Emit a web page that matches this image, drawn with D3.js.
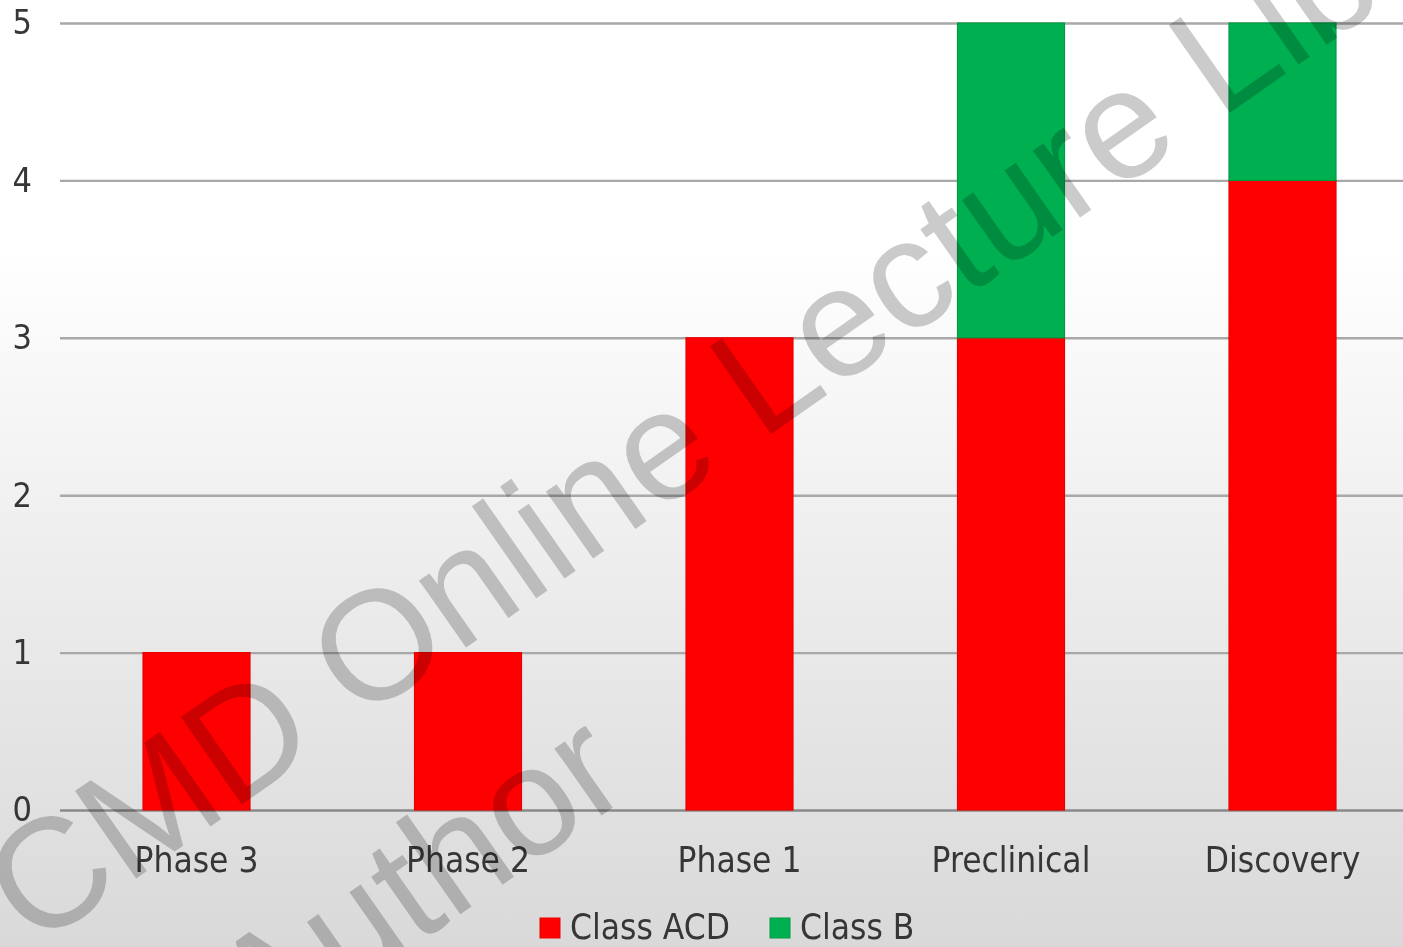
<!DOCTYPE html>
<html>
<head>
<meta charset="utf-8">
<script src="https://cdn.jsdelivr.net/npm/d3@7"></script>
<style>
  html, body { margin: 0; padding: 0; background: #ffffff; overflow: hidden; }
  svg { display: block; }
  .lbl { font-family: "DejaVu Sans Condensed", "DejaVu Sans", sans-serif; font-stretch: condensed; fill: #363636; }
</style>
</head>
<body>
<svg id="chart" width="1403" height="947"></svg>
<script>
// Pipeline counts per development stage
const categories = ["Phase 3", "Phase 2", "Phase 1", "Preclinical", "Discovery"];
const classACD = [1, 1, 3, 3, 4];
const classB = [0, 0, 0, 2, 1];
const seriesNames = ["Class ACD", "Class B"];
const seriesColors = ["#ff0000", "#00b050"];
const seriesEdges = ["#e80000", "#009a45"];
const yTicks = [0, 1, 2, 3, 4, 5];

const W = 1403, H = 947;
const svg = d3.select("#chart");

// background: white fading to light grey towards the bottom
const defs = svg.append("defs");
const bg = defs.append("linearGradient").attr("id", "bg")
  .attr("x1", 0).attr("y1", 0).attr("x2", 0).attr("y2", 1);
bg.append("stop").attr("offset", "0").attr("stop-color", "#ffffff");
bg.append("stop").attr("offset", "0.26").attr("stop-color", "#ffffff");
bg.append("stop").attr("offset", "0.6").attr("stop-color", "#ededed");
bg.append("stop").attr("offset", "1").attr("stop-color", "#d9d9d9");
svg.append("rect").attr("width", W).attr("height", H).attr("fill", "url(#bg)");

const x = d3.scaleBand().domain(categories).range([60.75, 1418.25])
  .paddingInner(0.606).paddingOuter(0.303);
const y = d3.scaleLinear().domain([0, 5]).range([810, 23]);

// horizontal grid lines with value labels
const yAxis = d3.axisLeft(y).tickValues(yTicks).tickFormat(d3.format("d"))
  .tickSize(-(W - 60)).tickPadding(28);
const gy = svg.append("g").attr("transform", "translate(60,0)").call(yAxis);
gy.select(".domain").remove();
gy.selectAll(".tick line")
  .attr("stroke", d => d === 0 ? "#8a8a8a" : "#a8a8a8")
  .attr("stroke-width", 2.4);
gy.selectAll(".tick text").attr("class", "lbl")
  .style("font-size", "34px").attr("dy", "0.32em");

// stacked bars
const rows = categories.map((c, i) => ({ cat: c, "Class ACD": classACD[i], "Class B": classB[i] }));
const stacked = d3.stack().keys(seriesNames)(rows);
svg.append("g").selectAll("g").data(stacked).join("g")
  .attr("fill", (d, i) => seriesColors[i])
  .attr("stroke", (d, i) => seriesEdges[i])
  .attr("stroke-width", 1.2)
  .selectAll("rect").data(d => d.filter(p => p[1] > p[0])).join("rect")
  .attr("x", p => x(p.data.cat))
  .attr("width", x.bandwidth())
  .attr("y", p => y(p[1]))
  .attr("height", p => y(p[0]) - y(p[1]));

// category labels
const xAxis = d3.axisBottom(x).tickSize(0).tickPadding(0);
const gx = svg.append("g").attr("transform", "translate(0,810)").call(xAxis);
gx.select(".domain").remove();
gx.selectAll(".tick text").attr("class", "lbl")
  .style("font-size", "35px").attr("y", 62).attr("dy", 0);

// legend
const legend = svg.append("g");
const legendX = [540, 770];
seriesNames.forEach((name, i) => {
  legend.append("rect").attr("x", legendX[i]).attr("y", 918)
    .attr("width", 20).attr("height", 20)
    .attr("fill", seriesColors[i]).attr("stroke", seriesEdges[i]).attr("stroke-width", 1);
  legend.append("text").attr("class", "lbl").attr("x", legendX[i] + 30).attr("y", 939)
    .style("font-size", "35px").text(name);
});

// watermark
const wm = svg.append("g").style("mix-blend-mode", "multiply")
  .attr("fill", "#cbcbcb")
  .style("font-family", "'Liberation Sans', Arial, sans-serif")
  .style("font-size", "155px");
wm.append("text").attr("transform", "translate(34,950) rotate(-35)").text("CMD Online Lecture Library");
wm.append("text").attr("transform", "translate(261,1054) rotate(-35)").text("Author");
</script>
</body>
</html>
